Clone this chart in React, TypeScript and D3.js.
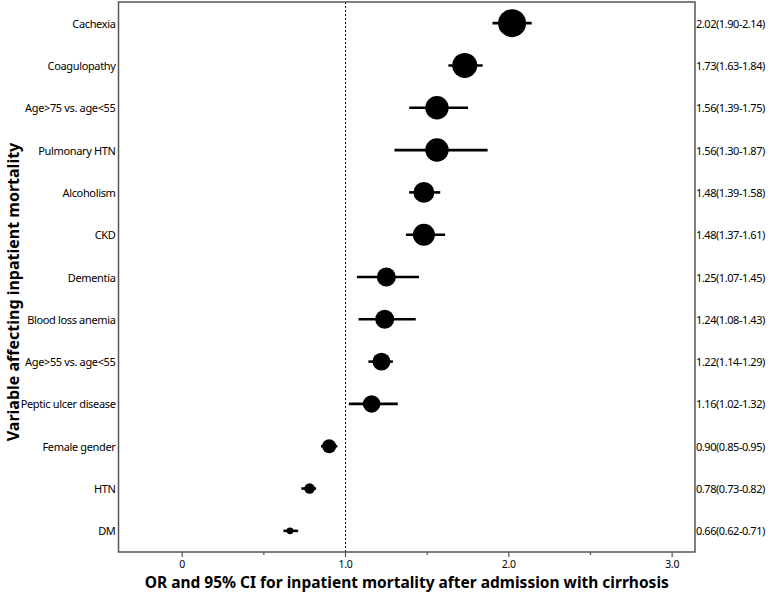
import React from "react";
import * as d3 from "d3";

const labels = [
  "Cachexia",
  "Coagulopathy",
  "Age>75 vs. age<55",
  "Pulmonary HTN",
  "Alcoholism",
  "CKD",
  "Dementia",
  "Blood loss anemia",
  "Age>55 vs. age<55",
  "Peptic ulcer disease",
  "Female gender",
  "HTN",
  "DM",
];
const oddsRatio = [2.02, 1.73, 1.56, 1.56, 1.48, 1.48, 1.25, 1.24, 1.22, 1.16, 0.9, 0.78, 0.66];
const ciLow = [1.9, 1.63, 1.39, 1.3, 1.39, 1.37, 1.07, 1.08, 1.14, 1.02, 0.85, 0.73, 0.62];
const ciHigh = [2.14, 1.84, 1.75, 1.87, 1.58, 1.61, 1.45, 1.43, 1.29, 1.32, 0.95, 0.82, 0.71];
const weights = [100, 80, 70, 70, 56, 62, 46, 46, 41, 39, 25, 14, 6];
const tickValues = [0, 0.5, 1, 1.5, 2, 2.5, 3];
const tickLabels = ["0", "", "1.0", "", "2.0", "", "3.0"];

const W = 770;
const H = 598;
const left = 118.5;
const right = 695;
const top = 2;
const bottom = 552;
const FONT = "'Noto Sans', 'Open Sans', sans-serif";

export default function App() {
  const x = d3.scaleLinear().domain([-0.39, 3.14]).range([left, right]);
  const y = d3.scaleBand<string>().domain(labels).range([top, bottom]);
  const r = d3.scaleSqrt().domain([0, 100]).range([0, 14]);
  const bw = y.bandwidth();

  return (
    <svg
      width={W}
      height={H}
      style={{ position: "absolute", left: 0, top: 0, background: "#fff" }}
      fontFamily={FONT}
    >
      {/* reference line at 1 */}
      <line
        x1={x(1)}
        x2={x(1)}
        y1={top}
        y2={bottom}
        stroke="#000"
        strokeWidth={1}
        strokeDasharray="2,2"
      />
      {/* rows */}
      {labels.map((lab, i) => {
        const cy = (y(lab) ?? 0) + bw / 2;
        return (
          <g key={lab}>
            <line
              x1={x(ciLow[i])}
              x2={x(ciHigh[i])}
              y1={cy}
              y2={cy}
              stroke="#000"
              strokeWidth={2.6}
            />
            <circle cx={x(oddsRatio[i])} cy={cy} r={r(weights[i])} fill="#000" />
            <text
              x={left - 3}
              y={cy}
              textAnchor="end"
              dominantBaseline="central"
              fontSize={11}
              letterSpacing={-0.35}
              fill="#000"
            >
              {lab}
            </text>
            <text
              x={right + 1}
              y={cy}
              dominantBaseline="central"
              fontSize={11}
              letterSpacing={-0.45}
              fill="#000"
            >
              {`${oddsRatio[i].toFixed(2)}(${ciLow[i].toFixed(2)}-${ciHigh[i].toFixed(2)})`}
            </text>
          </g>
        );
      })}
      {/* frame */}
      <rect
        x={left}
        y={top}
        width={right - left}
        height={bottom - top}
        fill="none"
        stroke="#555"
        strokeWidth={1.5}
      />
      {/* x ticks */}
      {tickValues.map((t, i) => (
        <g key={t}>
          <line
            x1={x(t)}
            x2={x(t)}
            y1={bottom}
            y2={bottom + (tickLabels[i] ? 5 : 3)}
            stroke="#555"
            strokeWidth={1.2}
          />
          {tickLabels[i] && (
            <text x={x(t)} y={568} textAnchor="middle" fontSize={10.5} letterSpacing={-0.3} fill="#000">
              {tickLabels[i]}
            </text>
          )}
        </g>
      ))}
      {/* axis titles */}
      <text
        x={(left + right) / 2}
        y={588}
        textAnchor="middle"
        fontSize={15.5}
        fontWeight="bold"
        fill="#000"
      >
        OR and 95% CI for inpatient mortality after admission with cirrhosis
      </text>
      <text
        transform={`translate(13,292) rotate(-90)`}
        textAnchor="middle"
        dominantBaseline="central"
        fontSize={16}
        fontWeight="bold"
        fill="#000"
      >
        Variable affecting inpatient mortality
      </text>
    </svg>
  );
}
